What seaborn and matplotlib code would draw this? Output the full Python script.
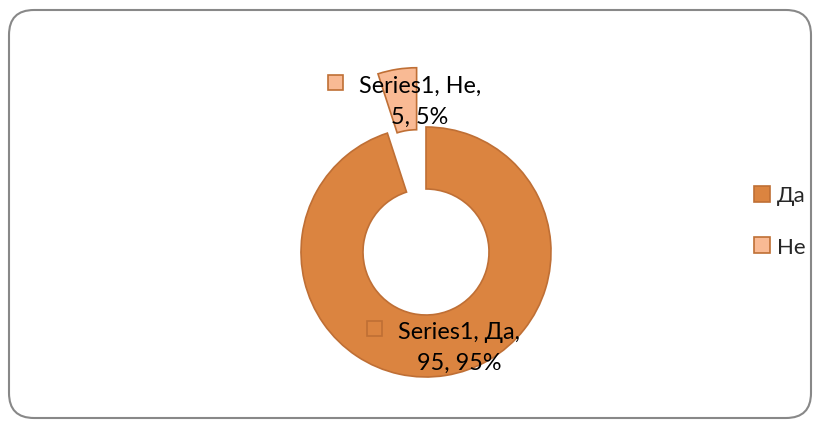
"""Donut chart: share of Да / Не answers (Series1)."""
import matplotlib
matplotlib.use("Agg")
import matplotlib.pyplot as plt
from matplotlib.patches import FancyBboxPatch, Rectangle
import seaborn as sns

series_name = "Series1"
categories = ["Да", "Не"]
values = [95, 5]

sns.set_theme(style="white")
plt.rcParams['font.family'] = ['Lato', 'DejaVu Sans']

colors = sns.color_palette(["#DB8440", "#F9BA94"])
edge = "#BF6F35"

fig = plt.figure(figsize=(8.19, 4.27), dpi=100)
# axes in pixel units so the layout matches the picture
ax = fig.add_axes([0, 0, 1, 1])

wedges, _ = ax.pie(values, colors=colors, radius=125, center=(426, 174),
                   startangle=90, counterclock=False, explode=[0, 60],
                   wedgeprops=dict(width=62, edgecolor=edge, linewidth=1.2))
ax.set_xlim(0, 819)
ax.set_ylim(0, 427)
ax.set_aspect('auto')
ax.axis('off')

# data labels with their little legend keys
total = sum(values)
label_pos = [(459, 79), (420, 325)]
key_pos = [(367, 90), (328, 336)]
for cat, val, col, (tx, ty), (kx, ky) in zip(categories, values, colors, label_pos, key_pos):
    pct = round(100 * val / total)
    ax.text(tx, ty, f"{series_name}, {cat},\n{val}, {pct}%", ha='center', va='center',
            fontsize=16.8, color='black', linespacing=1.58)
    ax.add_patch(Rectangle((kx, ky), 15, 15, facecolor=col, edgecolor=edge, linewidth=1.2))

ax.legend(wedges, categories, loc='center left', bbox_to_anchor=(754 / 819, 1 - 222 / 427),
          frameon=False, fontsize=16, handlelength=0.72, handleheight=0.72,
          handletextpad=0.3, labelspacing=1.4, borderpad=0, borderaxespad=0)

# rounded chart-area border
ax.add_patch(FancyBboxPatch((9, 8), 802, 408, boxstyle="round,pad=0,rounding_size=25",
                            fill=False, edgecolor="#888888", linewidth=1.5, clip_on=False))

plt.savefig('out.png', dpi=100)
